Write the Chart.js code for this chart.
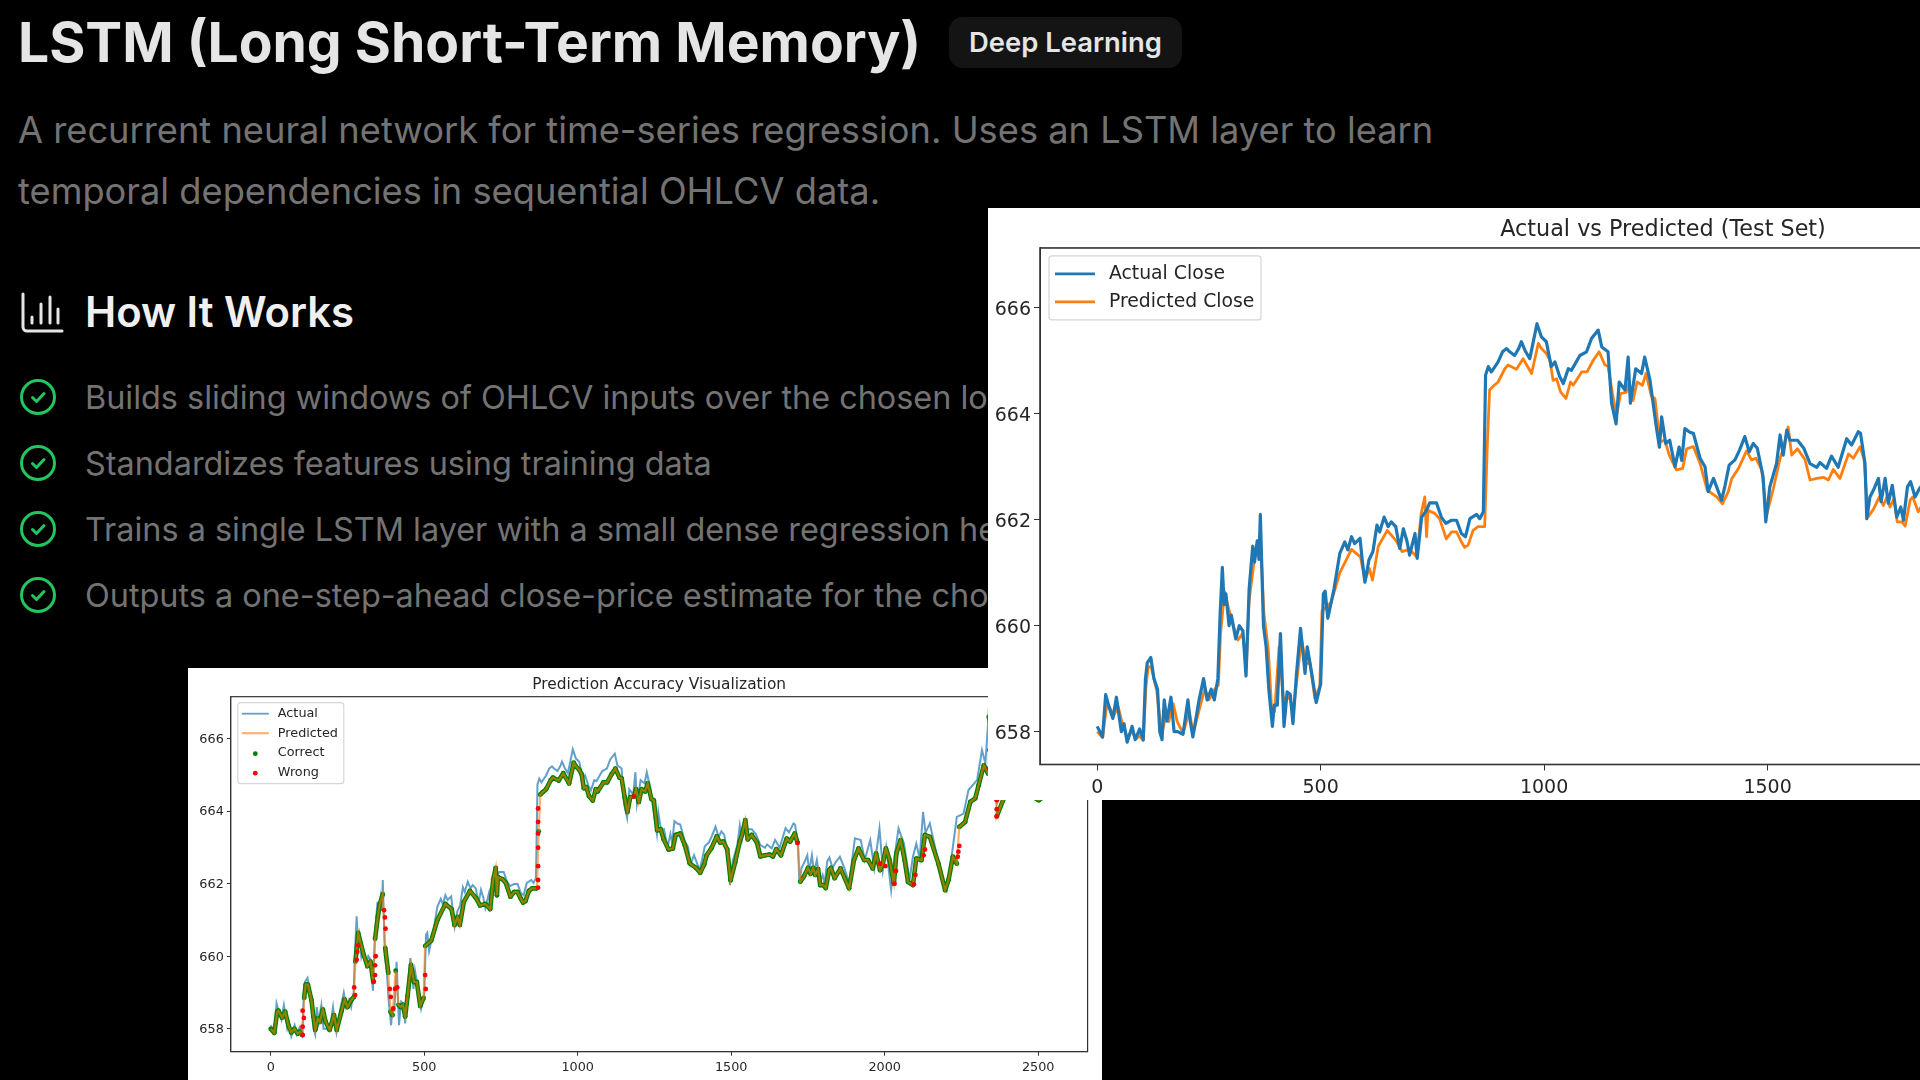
<!DOCTYPE html>
<html>
<head>
<meta charset="utf-8">
<title>LSTM</title>
<script src="https://cdn.jsdelivr.net/npm/chart.js@4/dist/chart.umd.min.js"></script>
<style>
    html, body { margin: 0; width: 1920px; height: 1080px; overflow: hidden; background: #000; }
    body { font-family: Inter, sans-serif; position: relative; }
    .abs { position: absolute; white-space: nowrap; }
    h1 { margin: 0; left: 18px; top: 7px; font-size: 55.2px; line-height: 70px; font-weight: 700; color: #e5e5e5; }
    .badge { left: 949px; top: 17px; width: 233px; height: 51px; border-radius: 14px; background: #141414;
             color: #e5e5e5; font-size: 27.4px; font-weight: 600; line-height: 51px; text-align: center; }
    .desc { left: 18px; font-size: 36.25px; line-height: 61px; color: #737373; }
    h2 { margin: 0; left: 85px; top: 287px; font-size: 41.8px; line-height: 50px; font-weight: 600; color: #f0f0f0; }
    .step { left: 85px; font-size: 32.4px; line-height: 40px; color: #737373; }
    .panel { position: absolute; background: #fff; overflow: hidden; filter: blur(.45px); }
    canvas { display: block; }
</style>
</head>
<body>

<h1 class="abs">LSTM (Long Short-Term Memory)</h1>
<div class="abs badge">Deep Learning</div>
<div class="abs desc" style="top:100px">A recurrent neural network for time-series regression. Uses an LSTM layer to learn</div>
<div class="abs desc" style="top:161px">temporal dependencies in sequential OHLCV data.</div>

<svg class="abs" style="left:20px;top:291px" width="44" height="44" viewBox="0 0 44 44" fill="none" stroke="#e5e5e5" stroke-width="3" stroke-linecap="round">
    <path d="M3 3v33a4 4 0 0 0 4 4h35"/><path d="M12 32v-6"/><path d="M21 32v-19"/><path d="M30 32v-26"/><path d="M38 32v-14"/>
</svg>
<h2 class="abs">How It Works</h2>

<div id="steps"></div>

<div class="panel" style="left:188px;top:668px;width:914px;height:412px"><canvas id="accuracyChart" width="914" height="412"></canvas></div>
<div class="panel" style="left:988px;top:208px;width:932px;height:592px"><canvas id="testChart" width="1350" height="592"></canvas></div>

<script>
/* ---------- DATA ---------- */
const stepTexts = [
    "Builds sliding windows of OHLCV inputs over the chosen lookback window",
    "Standardizes features using training data",
    "Trains a single LSTM layer with a small dense regression head",
    "Outputs a one-step-ahead close-price estimate for the chosen ticker"
];

const xTicks = [0, 500, 1000, 1500, 2000, 2500];
const yTicks = [658, 660, 662, 664, 666];

const actualX = [0,12,19,27,35,43,54,60,67,78,85,95,103,108,112,120,127,135,140,145,150,156,165,172,180,192,203,208,214,228,238,246,255,262,270,275,280,284,288,295,300,310,318,326,333,340,348,352,358,362,365,372,378,384,392,396,403,410,418,425,432,438,446,455,465,470,480,490,500,506,510,516,530,543,554,561,569,576,588,593,599,608,617,626,632,642,651,658,668,677,685,693,699,711,716,726,737,744,759,770,780,793,804,815,824,834,849,856,864,869,875,882,890,897,907,916,923,934,943,949,957,968,975,984,994,1005,1016,1024,1035,1043,1054,1061,1080,1095,1106,1121,1129,1143,1151,1161,1168,1181,1188,1193,1205,1218,1225,1237,1250,1258,1263,1272,1281,1293,1302,1308,1315,1326,1334,1349,1360,1367,1379,1397,1405,1414,1427,1437,1449,1459,1468,1477,1490,1496,1505,1520,1528,1535,1543,1550,1567,1581,1595,1610,1617,1632,1643,1658,1677,1688,1703,1708,1718,1722,1729,1737,1748,1754,1763,1770,1779,1789,1798,1804,1813,1820,1830,1840,1854,1870,1884,1903,1922,1935,1953,1966,1983,1994,2005,2021,2032,2045,2063,2081,2092,2103,2114,2125,2133,2147,2164,2186,2202,2218,2235,2257,2273,2301,2317,2328,2339,2350,2362,2365,2388,2440,2502,2540];
const actualY = [658.1,657.9,658.7,658.45,658.25,658.65,658.0,658.15,657.8,658.1,657.85,658.05,657.85,659.0,659.3,659.4,659.0,658.8,658.0,657.85,658.6,658.2,658.65,658.0,658.0,657.95,658.6,658.2,657.9,658.6,659.0,658.6,658.8,658.6,659.0,660.2,661.1,660.4,660.6,660.0,660.2,659.75,660.0,659.9,659.05,660.7,661.5,661.2,661.6,661.25,662.1,660.0,659.6,658.8,658.1,658.5,658.5,659.85,658.1,658.75,658.7,658.15,659.1,659.95,659.1,659.6,659.1,658.55,658.9,660.6,660.65,660.14,660.7,661.37,661.58,661.43,661.68,661.55,661.65,661.24,660.82,661.24,661.4,661.9,661.77,662.05,661.87,661.96,661.87,661.46,661.83,661.6,661.33,661.74,661.27,662.05,662.18,662.32,662.32,662.05,661.93,661.99,661.99,661.74,661.68,662.02,662.1,662.02,662.15,664.73,664.89,664.79,664.89,664.98,665.17,665.23,665.17,665.1,665.23,665.36,665.2,665.04,665.33,665.7,665.45,665.36,664.89,664.98,664.7,664.57,664.85,664.82,665.1,665.17,665.42,665.58,665.26,665.17,664.2,663.81,664.6,664.45,665.07,664.2,664.85,664.76,665.07,664.63,663.81,663.37,663.94,663.44,663.5,663.0,663.37,663.12,663.72,663.65,663.63,663.16,663.0,662.53,662.78,662.37,662.65,663.03,663.13,663.31,663.57,663.28,663.44,663.35,662.81,661.96,662.62,663.06,663.6,663.22,663.69,663.5,663.5,663.35,663.06,662.99,663.08,662.97,663.2,662.99,663.53,663.41,663.66,663.63,663.06,662.02,662.43,662.56,662.78,662.34,662.78,662.31,662.65,662.05,662.24,661.99,662.62,662.72,662.43,662.59,662.74,662.4,662.0,663.25,663.2,662.65,663.2,662.42,663.52,662.37,663.0,661.82,662.74,663.52,663.1,662.1,662.74,663.1,662.69,663.98,663.4,663.66,663.0,662.19,661.82,662.74,663.84,663.93,664.58,664.85,665.68,665.31,666.7,666.4,666.0,664.2,664.6,664.9,664.5,664.8];

const predictedX = [0,12,21,25,37,47,58,67,77,88,95,103,109,114,121,133,139,145,153,160,170,179,192,206,215,230,241,250,263,271,276,285,293,304,315,325,334,340,349,355,365,373,383,390,397,407,416,423,431,438,446,457,467,476,487,498,503,523,543,569,589,599,609,616,629,649,669,682,699,715,725,733,737,740,755,766,781,793,804,815,822,830,841,852,867,873,878,886,897,912,919,938,953,972,987,994,1005,1013,1020,1028,1037,1049,1059,1065,1084,1096,1110,1123,1136,1143,1153,1162,1171,1184,1190,1199,1208,1220,1228,1240,1248,1259,1270,1280,1296,1310,1319,1334,1349,1365,1386,1399,1412,1420,1435,1453,1464,1474,1487,1498,1513,1528,1535,1546,1554,1567,1584,1595,1610,1625,1636,1647,1662,1681,1692,1707,1716,1725,1737,1750,1759,1767,1774,1783,1790,1800,1808,1819,1825,1837,1856,1884,1900,1915,1933,1946,1961,1972,1985,1994,2004,2016,2030,2038,2052,2065,2076,2092,2103,2120,2131,2147,2175,2197,2208,2222,2235,2243,2262,2279,2295,2306,2323,2337,2339,2350,2362,2365,2388,2440,2502,2540];
const predictedY = [658.0,657.89,658.47,658.5,658.31,658.47,658.09,657.9,658.0,657.87,657.92,657.83,658.85,659.22,659.22,658.78,658.34,657.97,658.28,658.19,658.53,658.19,657.97,658.38,657.97,658.47,658.81,658.6,658.8,658.88,659.85,660.64,660.36,660.01,659.73,659.85,659.29,660.48,661.08,661.43,661.71,660.23,659.54,658.47,658.38,659.6,658.66,658.6,658.66,658.34,658.91,659.76,659.29,659.29,658.63,658.85,660.28,660.43,661.0,661.44,661.3,660.86,661.08,660.86,661.5,661.8,661.6,661.4,661.44,661.3,662.12,662.43,661.68,662.18,662.12,662.02,661.64,661.77,661.77,661.58,661.48,661.52,661.8,661.87,661.87,663.44,664.45,664.52,664.6,664.85,664.92,664.84,665.04,664.76,665.33,665.23,665.14,665.01,664.63,664.66,664.41,664.29,664.6,664.54,664.79,664.79,665.01,665.17,664.92,664.9,664.38,663.97,664.38,664.41,664.6,664.25,664.6,664.54,664.76,664.33,664.29,663.47,663.5,663.22,662.94,662.97,663.34,663.38,663.06,662.56,662.43,662.3,662.53,662.78,662.97,663.3,663.13,663.16,662.94,662.09,662.59,663.16,663.34,663.75,663.22,663.34,663.13,662.75,662.78,662.8,662.75,662.95,662.78,663.24,663.16,663.38,663.13,662.05,662.2,662.43,662.27,662.43,662.24,662.4,661.96,661.96,661.88,662.37,662.43,662.15,662.42,661.87,662.65,662.97,662.65,662.65,662.42,662.83,662.37,662.55,662.97,662.65,662.0,662.83,663.2,662.65,662.05,661.96,662.69,662.65,663.34,663.29,662.55,661.82,662.1,662.74,662.55,663.56,663.7,664.25,664.35,664.71,665.26,665.03,666.6,666.2,665.8,663.85,664.35,664.6,664.3,664.55];

const wrongX = [104,104,108,104,272,275,280,282,285,336,340,340,342,369,372,374,388,391,399,405,412,503,505,871,871,871,871,871,871,871,1183,1716,1985,2002,2032,2037,2095,2100,2127,2131,2238,2240,2243,2339,2341,2365,2365,2365];
const wrongY = [657.83,658.06,658.3,658.5,659.14,658.93,659.9,660.12,660.3,659.3,659.48,659.75,660.0,661.27,661.07,660.76,659.1,658.88,658.56,659.1,659.14,659.48,659.1,664.07,663.7,663.38,662.99,662.48,661.89,662.1,664.4,663.12,662.55,662.48,662.0,662.35,661.98,662.24,662.78,662.94,662.74,662.88,663.04,665.17,665.68,664.3,664.05,663.85];

/* ---------- HELPERS ---------- */
const pairs = (xs, ys) => xs.map((x, i) => ({ x: x, y: ys[i] }));

// matplotlib-like frame and a legend floating inside the plot
const framePlugin = {
    id: "frame",
    afterDraw(chart, args, opts) {
        const c = chart.ctx, a = chart.chartArea;
        c.save();
        c.strokeStyle = "#333";
        c.lineWidth = opts.spine;
        c.strokeRect(a.left, a.top, a.right - a.left, a.bottom - a.top);

        const x = a.left + opts.dx, y = a.top + opts.dy;
        c.fillStyle = "rgba(255,255,255,.85)";
        c.strokeStyle = "#d6d6d6";
        c.lineWidth = 1.2;
        c.beginPath();
        c.roundRect(x, y, opts.w, opts.h, 3);
        c.fill();
        c.stroke();

        c.font = opts.size + "px 'DejaVu Sans'";
        c.textBaseline = "middle";
        opts.rows.forEach((row, i) => {
            const ry = y + opts.first + i * opts.rowH;
            if (row.dot) {
                c.fillStyle = row.color;
                c.beginPath();
                c.arc(x + opts.pad + opts.handle / 2, ry + 1, opts.dot, 0, Math.PI * 2);
                c.fill();
            } else {
                c.strokeStyle = row.color;
                c.lineWidth = row.width;
                c.beginPath();
                c.moveTo(x + opts.pad, ry);
                c.lineTo(x + opts.pad + opts.handle, ry);
                c.stroke();
            }
            c.fillStyle = "#262626";
            c.fillText(row.label, x + opts.textX, ry);
        });
        c.restore();
    }
};

function scales(xMin, xMax, yMin, yMax, size, tickLen, yWidth, xHeight, xPad, yShift) {
    const base = { color: "#262626", font: { family: "DejaVu Sans", size: size }, maxRotation: 0, autoSkip: false, callback: v => String(v) };
    const grid = { drawOnChartArea: false, color: "#333", tickLength: tickLen, tickWidth: 1 };
    return {
        x: {
            type: "linear", min: xMin, max: xMax, ticks: { ...base, padding: xPad }, grid: grid, border: { color: "#333" },
            afterBuildTicks: s => { s.ticks = xTicks.map(v => ({ value: v })); },
            afterFit: s => { s.height = xHeight; }
        },
        y: {
            type: "linear", min: yMin, max: yMax, ticks: { ...base, padding: 3, labelOffset: yShift }, grid: grid, border: { color: "#333" },
            afterBuildTicks: s => { s.ticks = yTicks.map(v => ({ value: v })); },
            afterFit: s => { s.width = yWidth; }
        }
    };
}

/* ---------- STEP LIST ---------- */
document.getElementById("steps").innerHTML = stepTexts.map((t, i) => {
    const top = 397 + i * 66;
    return `<svg class="abs" style="left:19px;top:${top - 19}px" width="38" height="38" viewBox="0 0 38 38" fill="none" stroke="#22c55e" stroke-width="3" stroke-linecap="round" stroke-linejoin="round">
        <circle cx="19" cy="19" r="16.5"/><path d="M13.5 19.5l4 4 7.5-8"/></svg>
        <div class="abs step" style="top:${top - 19}px">${t}</div>`;
}).join("");

/* ---------- ACTUAL VS PREDICTED ---------- */
new Chart(document.getElementById("testChart"), {
    type: "line",
    plugins: [framePlugin],
    data: {
        datasets: [
            { label: "Actual Close", data: pairs(actualX, actualY), borderColor: "#1f77b4", borderWidth: 3.2, borderJoinStyle: "round", pointRadius: 0, tension: 0 },
            { label: "Predicted Close", data: pairs(predictedX, predictedY), borderColor: "#ff7f0e", borderWidth: 2.8, borderJoinStyle: "round", pointRadius: 0, tension: 0 }
        ]
    },
    options: {
        responsive: false,
        animation: false,
        layout: { padding: { right: 52 } },
        scales: scales(-128, 2660, 657.38, 667.13, 19, 6, 52, 35.5, 6, 2),
        plugins: {
            legend: { display: false },
            tooltip: { enabled: false },
            title: {
                display: true, text: "Actual vs Predicted (Test Set)", fullSize: false, color: "#262626",
                font: { family: "DejaVu Sans", size: 22.3, weight: "normal" }, padding: { top: 9, bottom: 4.2 }
            },
            frame: {
                spine: 1.6, dx: 9, dy: 8, w: 212, h: 64, first: 18, rowH: 28, pad: 6, handle: 40, textX: 60, size: 18.8, dot: 3,
                rows: [
                    { label: "Actual Close", color: "#1f77b4", width: 2.8 },
                    { label: "Predicted Close", color: "#ff7f0e", width: 2.8 }
                ]
            }
        }
    }
});

/* ---------- PREDICTION ACCURACY ---------- */
new Chart(document.getElementById("accuracyChart"), {
    type: "line",
    plugins: [framePlugin],
    data: {
        datasets: [
            { label: "Actual", data: pairs(actualX, actualY), borderColor: "rgba(31,119,180,.7)", borderWidth: 2, pointRadius: 0, tension: 0, order: 4 },
            { label: "Predicted", data: pairs(predictedX, predictedY), borderColor: "rgba(255,127,14,.6)", borderWidth: 2.2, pointRadius: 0, tension: 0, order: 2 },
            {
                label: "Correct", data: pairs(predictedX, predictedY), borderColor: "#008000", borderWidth: 4.6, borderJoinStyle: "round",
                pointRadius: 2.4, pointBackgroundColor: "#008000", pointBorderWidth: 0, tension: 0, order: 3,
                segment: { borderColor: ctx => Math.abs(ctx.p0.parsed.y - ctx.p1.parsed.y) > 0.9 ? "transparent" : undefined }
            },
            { label: "Wrong", data: pairs(wrongX, wrongY), showLine: false, pointRadius: 2.4, pointBackgroundColor: "#ff0000", pointBorderWidth: 0, order: 1 }
        ]
    },
    options: {
        responsive: false,
        animation: false,
        layout: { padding: { right: 14.4 } },
        scales: scales(-130, 2661, 657.37, 667.15, 12.8, 4, 42.8, 28.3, 4, 1),
        plugins: {
            legend: { display: false },
            tooltip: { enabled: false },
            title: {
                display: true, text: "Prediction Accuracy Visualization", fullSize: false, color: "#262626",
                font: { family: "DejaVu Sans", size: 15.4, weight: "normal" }, padding: { top: 7.8, bottom: 2.4 }
            },
            frame: {
                spine: 1.2, dx: 7, dy: 6, w: 106, h: 81, first: 11, rowH: 19.5, pad: 4, handle: 27, textX: 40, size: 12.8, dot: 2.4,
                rows: [
                    { label: "Actual", color: "rgba(31,119,180,.7)", width: 1.8 },
                    { label: "Predicted", color: "rgba(255,127,14,.6)", width: 2.2 },
                    { label: "Correct", color: "#008000", dot: true },
                    { label: "Wrong", color: "#ff0000", dot: true }
                ]
            }
        }
    }
});
</script>
</body>
</html>
